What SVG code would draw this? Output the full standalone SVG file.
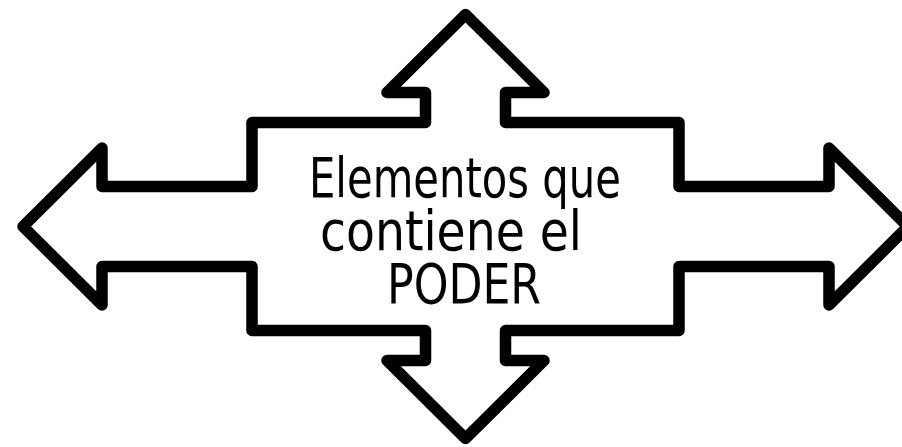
<svg xmlns="http://www.w3.org/2000/svg" width="902" height="447" viewBox="0 0 902 447">
<style>
.shape{fill:#ffffff;stroke:#000000;stroke-width:11.5;stroke-linejoin:round}
.lbl{font-family:"DejaVu Sans",Verdana,sans-serif;font-size:56px;fill:#000000}
</style>
<rect width="902" height="447" fill="#ffffff"/>
<g id="quad-arrow">
<path class="shape" d="M465.5 14.5 L544 92.5 L505.5 92.5 L505.5 122.5 L679 122.5 L679 186.5 L829 186.5 L829 148 L908 226.5 L829 305 L829 266.5 L679 266.5 L679 330.5 L505.5 330.5 L505.5 360.5 L544 360.5 L465.5 438.5 L387 360.5 L425.5 360.5 L425.5 330.5 L252 330.5 L252 266.5 L102 266.5 L102 305 L23 226.5 L102 148 L102 186.5 L252 186.5 L252 122.5 L425.5 122.5 L425.5 92.5 L387 92.5 Z"/>
<text class="lbl" x="309" y="197" textLength="312" lengthAdjust="spacingAndGlyphs">Elementos que</text>
<text class="lbl" x="320" y="250" textLength="262" lengthAdjust="spacingAndGlyphs">contiene el</text>
<text class="lbl" x="387" y="303" textLength="154" lengthAdjust="spacingAndGlyphs">PODER</text>
</g>
<g id="connectors"></g>
</svg>
